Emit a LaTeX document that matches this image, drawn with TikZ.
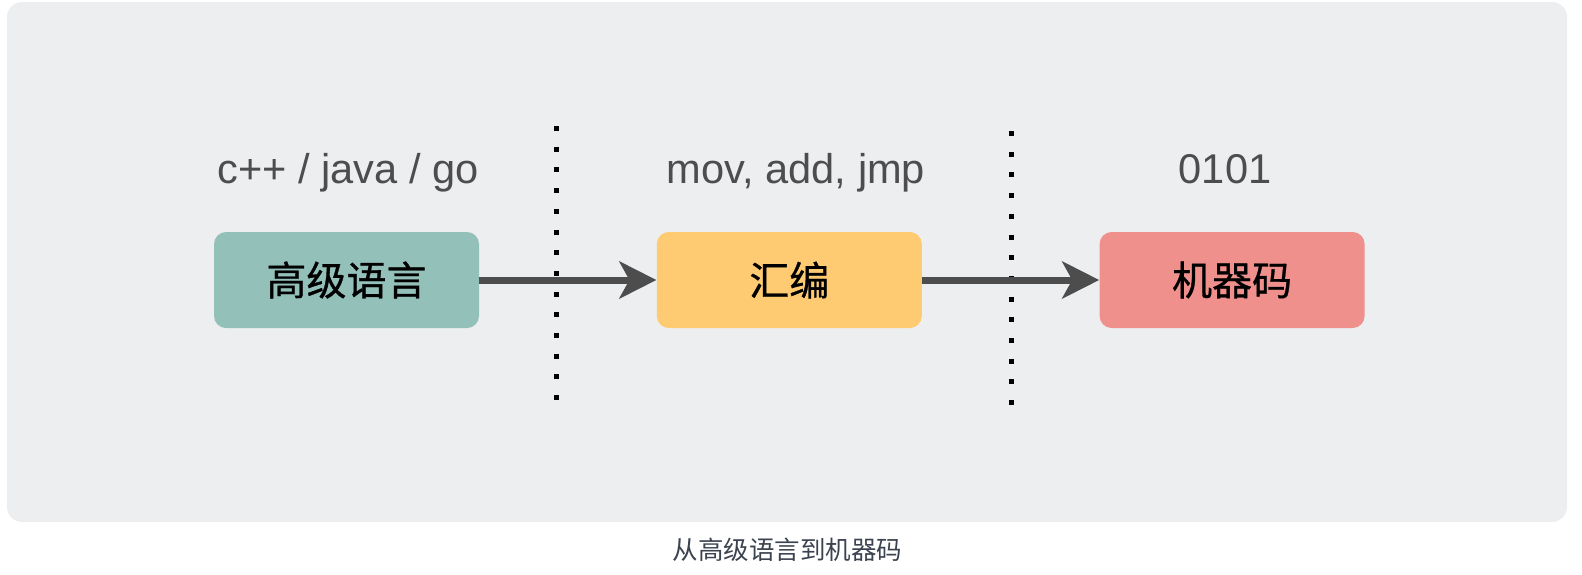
\documentclass[tikz,border=0pt]{standalone}
\usepackage{fontspec}
\setmainfont{Liberation Sans}
\newfontfamily\cjk{Noto Sans CJK SC}
\newfontfamily\cjkbox[FakeBold=0.8]{Noto Sans CJK SC}
\usetikzlibrary{positioning,arrows.meta}
\definecolor{ink}{HTML}{4D4D4D}
\definecolor{panel}{HTML}{EDEEF0}
\definecolor{sTeal}{HTML}{93C0B9}
\definecolor{sAmber}{HTML}{FECB72}
\definecolor{sRose}{HTML}{F0908D}
\definecolor{capInk}{HTML}{3C4350}
\tikzset{
  stage/.style={rounded corners=6pt, minimum width=132.5pt, minimum height=48pt, inner sep=0pt, font=\cjkbox\fontsize{20}{24}\selectfont, text=black},
  tag/.style={anchor=base, font=\fontsize{20.8}{24}\selectfont, text=ink},
  flow/.style={-{Stealth[length=18.5pt, width=18.5pt, inset=5pt]}, ink, line width=3.5pt},
  sep/.style={black, line width=2.5pt, dash pattern=on 2.5pt off 7.85pt},
}

\begin{document}
\begin{tikzpicture}[x=0.5pt, y=-0.5pt]
\useasboundingbox (0,0) rectangle (1582,574);
\fill[panel, rounded corners=7.5pt] (7,2) rectangle (1567,522);
\node[stage, fill=sTeal] (hll) at (346.5,280) {高级语言};
\node[stage, fill=sAmber, right=88.5pt of hll] (asm) {汇编};
\node[stage, fill=sRose, right=88.5pt of asm] (mcode) {机器码};
\node[tag] (hllTag) at (348,183) {c++ / java / go};
\node[tag] (asmTag) at (796,183) {mov, add, jmp};
\node[tag] (mcodeTag) at (1225,183) {0101};
\coordinate (cutA) at (556,126);
\coordinate (cutB) at (556,402);
\coordinate (cutC) at (1011.5,131);
\coordinate (cutD) at (1011.5,407);
\draw[sep] (cutA) -- (cutB);
\draw[sep] (cutC) -- (cutD);
\draw[flow] (hll) -- (asm);
\draw[flow] (asm) -- (mcode);
\node[font=\cjk\fontsize{12.75}{15}\selectfont, text=capInk] (caption) at (787.5,550) {从高级语言到机器码};
\end{tikzpicture}
\end{document}
